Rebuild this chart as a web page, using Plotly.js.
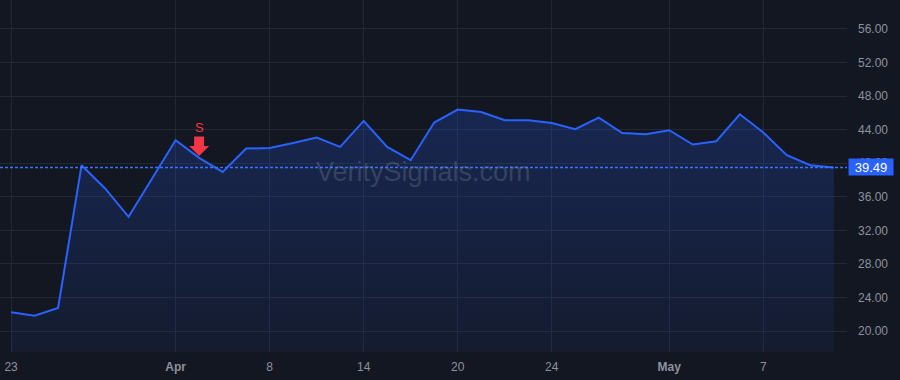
<!DOCTYPE html>
<html>
<head>
<meta charset="utf-8">
<script src="https://cdn.plot.ly/plotly-3.0.1.min.js"></script>
<style>
html,body{margin:0;padding:0;background:#131722;}
#chart{width:900px;height:380px;}
</style>
</head>
<body>
<div id="chart"></div>
<script>
// Trading days (2026, weekends and Good Friday skipped)
const dates = [
  '2026-03-23','2026-03-24','2026-03-25','2026-03-26','2026-03-27','2026-03-30','2026-03-31',
  '2026-04-01','2026-04-02','2026-04-06','2026-04-07','2026-04-08','2026-04-09','2026-04-10',
  '2026-04-13','2026-04-14','2026-04-15','2026-04-16','2026-04-17','2026-04-20','2026-04-21',
  '2026-04-22','2026-04-23','2026-04-24','2026-04-27','2026-04-28','2026-04-29','2026-04-30',
  '2026-05-01','2026-05-04','2026-05-05','2026-05-06','2026-05-07','2026-05-08','2026-05-11','2026-05-12'
];
const prices = [
  22.23, 21.82, 22.74, 39.76, 36.99, 33.61, 38.17,
  42.74, 40.63, 38.96, 41.75, 41.80, 42.40, 43.06,
  41.94, 45.04, 41.94, 40.36, 44.85, 46.39, 46.11,
  45.12, 45.12, 44.80, 44.05, 45.44, 43.60, 43.45,
  43.93, 42.22, 42.62, 45.83, 43.65, 40.95, 39.76, 39.49
];
const xTickVals = ['2026-03-23','2026-04-01','2026-04-08','2026-04-14','2026-04-20','2026-04-24','2026-05-01','2026-05-07'];
const xTickText = ['23','<b>Apr</b>','8','14','20','24','<b>May</b>','7'];
const yTickVals = [20,24,28,32,36,40,44,48,52,56];
const signalDate = '2026-04-02';
const signalLabel = 'S';
const lastPrice = 39.49;
const watermark = 'VeritySignals.com';

const signalIndex = dates.indexOf(signalDate);
const signalPrice = prices[signalIndex];

const trace = {
  x: dates, y: prices, type: 'scatter', mode: 'lines',
  line: {color: '#2962ff', width: 2},
  fill: 'tozeroy',
  fillgradient: {type: 'vertical', start: 17.5, stop: 47,
    colorscale: [[0, 'rgba(41,98,255,0.06)'], [1, 'rgba(41,98,255,0.22)']]},
  hoverinfo: 'skip'
};

const layout = {
  width: 900, height: 380,
  margin: {l: 0, r: 53, t: 0, b: 28},
  paper_bgcolor: '#131722', plot_bgcolor: '#131722',
  showlegend: false,
  font: {family: 'Liberation Sans, Arial, sans-serif', color: '#8d919c', size: 12},
  xaxis: {
    type: 'category', range: [-0.47, 35.56],
    tickvals: xTickVals, ticktext: xTickText,
    showgrid: true, gridcolor: '#232733', gridwidth: 1,
    zeroline: false, showline: false, ticks: '',
    ticklabelstandoff: 6,
    tickfont: {size: 12, color: '#8d919c'}
  },
  yaxis: {
    side: 'right', range: [17.5, 59.45],
    tickvals: yTickVals, tickformat: '.2f',
    showgrid: true, gridcolor: '#232733', gridwidth: 1,
    zeroline: false, showline: false, ticks: '',
    ticklabelstandoff: 10,
    tickfont: {size: 12, color: '#8d919c'}
  },
  shapes: [
    {
      type: 'line', xref: 'paper', x0: 0, x1: 1, yref: 'y', y0: lastPrice, y1: lastPrice,
      line: {color: '#3a74ff', width: 1.5, dash: '3px,2px'}, layer: 'above'
    },
    {
      type: 'path', xref: 'x', yref: 'y', xsizemode: 'pixel', ysizemode: 'pixel',
      xanchor: signalIndex, yanchor: signalPrice,
      path: 'M-5,21.5 L5,21.5 L5,12 L10,12 L0,2 L-10,12 L-5,12 Z',
      fillcolor: '#f23645', line: {width: 0}, layer: 'above'
    }
  ],
  annotations: [
    {
      xref: 'paper', yref: 'paper', x: 0.5, y: 0.511, xanchor: 'center', yanchor: 'middle',
      text: watermark, showarrow: false,
      font: {size: 27, color: 'rgba(125,133,152,0.33)', family: 'Liberation Sans, Arial, sans-serif'}
    },
    {
      x: signalDate, y: signalPrice, xref: 'x', yref: 'y', yshift: 30.5,
      xanchor: 'center', yanchor: 'middle',
      text: signalLabel, showarrow: false,
      font: {size: 13, color: '#f23645'}
    },
    {
      xref: 'paper', x: 1, xanchor: 'left', xshift: 1, yref: 'y', y: lastPrice, yanchor: 'middle',
      text: lastPrice.toFixed(2), showarrow: false,
      bgcolor: '#2962ff', borderpad: 1, width: 42, height: 14,
      font: {size: 13, color: '#ffffff'}
    }
  ]
};

Plotly.newPlot('chart', [trace], layout, {displayModeBar: false, staticPlot: true});
</script>
</body>
</html>
